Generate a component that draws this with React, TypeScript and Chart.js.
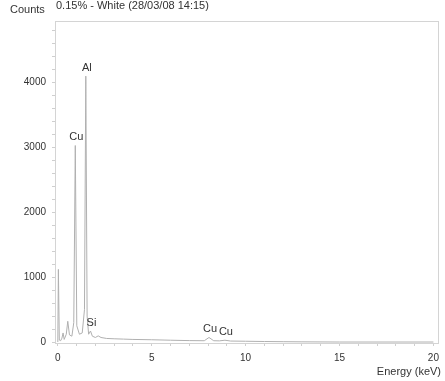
import React, { useEffect, useRef } from "react";
import { Chart, registerables } from "chart.js";

Chart.register(...registerables);

// Spectrum samples: energy (keV) and counts
const energies = [
  0.0, 0.03, 0.08, 0.15, 0.22, 0.28, 0.34, 0.45, 0.53, 0.62, 0.75, 0.85, 0.93, 1.01, 1.15, 1.3,
  1.42, 1.49, 1.56, 1.64, 1.74, 1.84, 2.0, 2.15, 2.3, 2.6, 3.0, 3.5, 4.0, 5.0, 6.0, 7.0, 7.8,
  8.05, 8.3, 8.6, 8.9, 9.2, 10.0, 11.0, 12.0, 13.0, 15.0, 20.0,
];
const counts = [
  0, 1120, 30, 20, 60, 140, 40, 120, 320, 110, 90, 300, 3030, 250, 120, 140, 500, 4100, 400,
  120, 170, 90, 70, 95, 70, 55, 50, 45, 40, 35, 28, 22, 20, 70, 20, 18, 28, 15, 12, 8, 5, 3, 0,
  0,
];

// Element labels placed above their peaks
const peakNames = ["Al", "Cu", "Si", "Cu", "Cu"];
const peakEnergies = [1.49, 0.93, 1.74, 8.05, 8.9];
const peakCounts = [4100, 3030, 170, 70, 28];

const xTickLabels = [0, 5, 10, 15, 20];
const yTickLabels = [0, 1000, 2000, 3000, 4000];

const titleText = "0.15% - White (28/03/08 14:15)";
const yAxisTitle = "Counts";
const xAxisTitle = "Energy (keV)";

const FONT = "Liberation Sans, Arial, sans-serif";

const annotations = {
  id: "spectrumText",
  afterDraw(chart: any) {
    const { ctx, chartArea, scales } = chart;
    ctx.save();
    // frame
    ctx.strokeStyle = "#d4d4d4";
    ctx.lineWidth = 1;
    ctx.strokeRect(
      Math.round(chartArea.left) + 0.5,
      Math.round(chartArea.top) + 0.5,
      Math.round(chartArea.right - chartArea.left),
      Math.round(chartArea.bottom - chartArea.top)
    );
    ctx.fillStyle = "#333";
    ctx.font = `11px ${FONT}`;
    ctx.textBaseline = "alphabetic";
    ctx.textAlign = "left";
    ctx.fillText(yAxisTitle, 10, 13);
    ctx.fillText(titleText, 56, 9);
    ctx.textAlign = "right";
    ctx.fillText(xAxisTitle, 441, 375);
    ctx.textAlign = "center";
    ctx.textBaseline = "bottom";
    peakNames.forEach((name, i) => {
      const px = scales.x.getPixelForValue(peakEnergies[i]);
      const py = scales.y.getPixelForValue(peakCounts[i]);
      ctx.fillText(name, px + 1, py - 3);
    });
    ctx.restore();
  },
};

export default function App() {
  const ref = useRef<HTMLCanvasElement>(null);
  useEffect(() => {
    if (!ref.current) return;
    const chart = new Chart(ref.current, {
      type: "scatter",
      data: {
        datasets: [
          {
            data: energies.map((e, i) => ({ x: e, y: counts[i] })),
            showLine: true,
            pointRadius: 0,
            borderWidth: 1,
            borderColor: "#b0b0b0",
            tension: 0,
          },
        ],
      },
      options: {
        animation: false,
        responsive: false,
        layout: { padding: { left: 0, top: 21, right: 2, bottom: 0 } },
        plugins: { legend: { display: false }, tooltip: { enabled: false } },
        scales: {
          x: {
            type: "linear",
            min: -0.15,
            max: 20.25,
            afterBuildTicks: (s: any) => {
              const t = [];
              for (let v = 0; v <= 20; v++) t.push({ value: v });
              s.ticks = t;
            },
            afterFit: (s: any) => {
              s.height = 38;
            },
            border: { display: false },
            grid: { drawOnChartArea: false, tickLength: 3, color: "#cfcfcf" },
            ticks: {
              autoSkip: false,
              maxRotation: 0,
              padding: 6,
              color: "#333",
              font: { size: 10, family: FONT },
              callback: (v: any) => (xTickLabels.includes(v) ? String(v) : ""),
            },
          },
          y: {
            min: -15,
            max: 4950,
            afterBuildTicks: (s: any) => {
              const t = [];
              for (let v = 0; v <= 4800; v += 200) t.push({ value: v });
              s.ticks = t;
            },
            afterFit: (s: any) => {
              s.width = 55;
            },
            border: { display: false },
            grid: { drawOnChartArea: false, tickLength: 3, color: "#cfcfcf" },
            ticks: {
              autoSkip: false,
              padding: 6,
              color: "#333",
              font: { size: 10, family: FONT },
              callback: (v: any) => (yTickLabels.includes(v) ? String(v) : ""),
            },
          },
        },
      },
      plugins: [annotations],
    });
    return () => chart.destroy();
  }, []);
  return (
    <div style={{ position: "absolute", left: 0, top: 0, width: 445, height: 381, background: "#fff" }}>
      <canvas ref={ref} width={445} height={381} />
    </div>
  );
}
